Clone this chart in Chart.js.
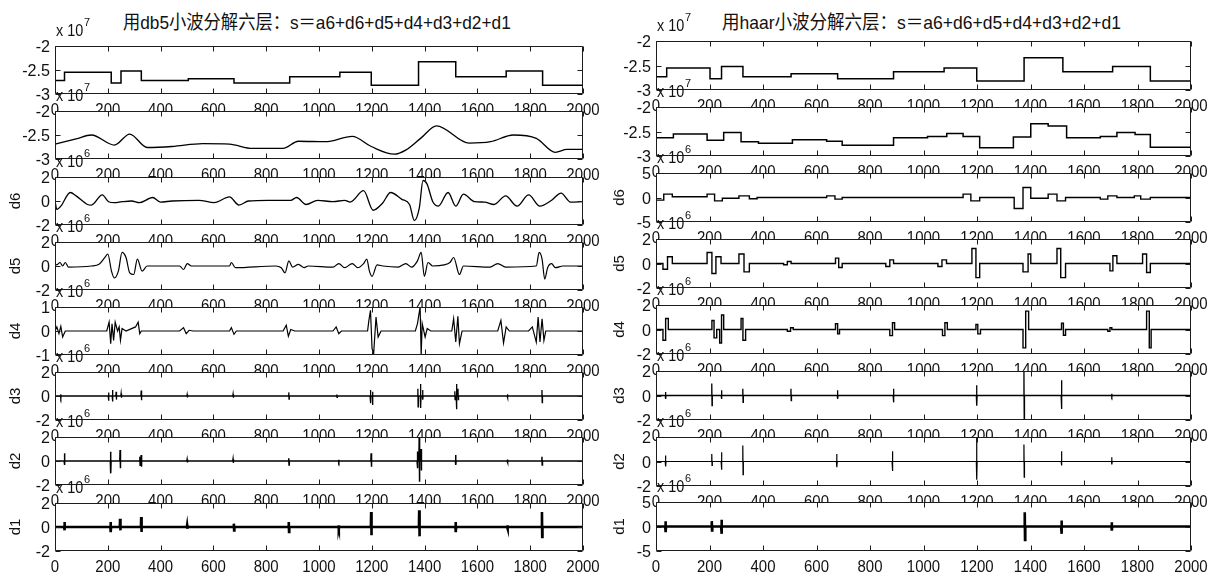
<!DOCTYPE html>
<html><head><meta charset="utf-8">
<script src="https://cdn.jsdelivr.net/npm/chart.js@4.4.0/dist/chart.umd.min.js"></script>
<style>
html,body{margin:0;padding:0;background:#fff;}
body{width:1212px;height:580px;overflow:hidden;position:relative;}
canvas{position:absolute;}
.title{position:absolute;top:12px;white-space:nowrap;font-family:"Liberation Sans","Noto Sans CJK SC",sans-serif;font-size:19px;line-height:22px;color:#111;transform-origin:0 0;}
</style></head>
<body>
<div id="t1" class="title" style="left:123px">用db5小波分解六层：s＝a6+d6+d5+d4+d3+d2+d1</div>
<div id="t2" class="title" style="left:722px">用haar小波分解六层：s＝a6+d6+d5+d4+d3+d2+d1</div>
<script>
// ---------------- axis definitions ----------------
const X_MIN = 0, X_MAX = 2000, X_STEP = 200;
const yMin  = [-3, -3, -2, -2, -1, -2, -2, -2];
const yMax  = [-2, -2,  2,  2,  1,  2,  2,  2];
const yStep = [0.5, 0.5, 2, 2, 1, 2, 2, 2];
const yMinHaar  = [-3, -3, -5, -2, -2, -2, -2, -5];
const yMaxHaar  = [-2, -2,  5,  2,  2,  2,  2,  5];
const yStepHaar = [0.5, 0.5, 5, 2, 2, 2, 2, 5];
const rowLabels = ['', '', 'd6', 'd5', 'd4', 'd3', 'd2', 'd1'];
const rowExp    = ['7', '7', '6', '6', '6', '6', '6', '6'];

// ---------------- db5 column ----------------
const db5_a6_x = [0,36,213,250,327,505,678,889,1079,1198,1377,1518,1709,1847,2000];
const db5_a6_y = [-2.72,-2.545,-2.77,-2.52,-2.72,-2.68,-2.77,-2.64,-2.545,-2.82,-2.33,-2.64,-2.52,-2.82,-2.82];

const db5_a5_x = [0,80,138,225,283,349,443,559,661,748,864,922,1024,1126,1198,1285,1330,1387,1445,1569,1650,1736,1823,1895,1939,2000];
const db5_a5_y = [-2.69,-2.58,-2.5,-2.71,-2.48,-2.76,-2.74,-2.68,-2.69,-2.78,-2.78,-2.63,-2.64,-2.53,-2.74,-2.9,-2.81,-2.56,-2.31,-2.67,-2.64,-2.5,-2.57,-2.86,-2.8,-2.8];

const db5_d6_x = [0,7,22,58,80,123,138,179,203,225,254,290,320,370,399,443,545,603,661,697,733,806,893,915,951,995,1053,1097,1118,1169,1205,1242,1271,1314,1343,1361,1380,1394,1409,1431,1452,1489,1518,1547,1590,1627,1663,1707,1750,1794,1837,1881,1917,1953,2000];
const db5_d6_y = [0,-0.71,-0.43,0.71,0.43,-0.29,-0.34,0.51,-0.06,-0.14,-0.06,0,-0.14,0.29,-0.09,0,0.06,-0.14,0.34,-0.34,0,0.06,0.06,0.29,-0.29,0.06,-0.06,0.06,-0.09,0.86,-0.77,-0.14,0.71,0.14,-0.29,-1.63,-0.57,1.71,1.43,-0.06,-0.43,0.71,-0.43,0.57,-0.06,-0.09,-0.29,0.43,-0.43,0.51,-0.43,0.06,0.66,-0.09,-0.06];

const db5_d5_x = [0,7,19,29,39,51,138,167,189,200,214,225,240,254,269,283,298,312,330,349,472,487,501,516,661,668,683,835,857,871,886,900,922,944,959,1053,1075,1097,1126,1147,1169,1181,1191,1201,1220,1242,1300,1329,1351,1373,1387,1399,1413,1431,1474,1496,1510,1532,1547,1648,1677,1707,1823,1834,1845,1855,1866,1881,1895,1924,2000];
const db5_d5_y = [0.2,0.09,0.29,0,0.29,-0.09,0,0.14,0.71,1.0,-0.43,-1.0,-0.43,1.14,0.71,-0.57,-0.71,0.57,-0.43,0,0,-0.29,0.2,0,0,0.29,-0.14,0,-0.14,-0.57,0.43,-0.09,0.14,-0.14,0,-0.09,0.2,-0.14,0.2,-0.14,0.2,0.57,-0.43,-0.86,0.09,0,-0.09,0.2,-0.09,0.43,1.14,-0.86,0.29,0,0.09,0.29,0.71,-0.71,0,-0.09,0.2,-0.09,0,1.14,0.57,-1.09,-0.14,0.2,-0.14,0,0];

const db5_d4_x = [0,7,15,22,29,39,196,205,211,216,222,228,237,243,248,254,269,290,305,315,321,327,472,487,497,508,523,661,668,678,687,864,876,884,893,908,1053,1065,1075,1085,1184,1189,1195,1201,1207,1216,1224,1235,1365,1373,1383,1387,1391,1402,1410,1423,1503,1510,1518,1526,1532,1542,1677,1689,1699,1709,1721,1794,1808,1823,1830,1837,1845,1852,1859,2000];
const db5_d4_y = [0,0.17,-0.11,0.19,-0.25,0,0,0.37,-0.53,0.3,-0.39,0.37,0,0.17,-0.39,0.1,0,0.1,0.17,0.37,-0.11,0,0,0.14,-0.11,0.03,0,0,0.14,-0.14,0,0,0.24,-0.22,0.06,0,0,0.17,-0.11,0,0,0.44,0.86,-0.74,-0.94,0.58,-0.25,0,0,0.31,1.0,-1.0,0.31,-0.25,0.1,0,0,0.51,-0.46,0.61,-0.53,0,0,0.44,-0.5,0.17,0,0,0.17,-0.46,0.58,-0.46,0.51,-0.39,0,0];

const db5_d3_at = [22,203,218,232,251,327,501,675,886,1068,1195,1203,1375,1385,1393,1515,1521,1527,1714,1845];
const db5_d3_hi = [0.15,0.3,0.5,0.35,0.2,0.45,0.12,0.15,0.3,0.12,0.5,0.35,0.6,1.0,0.5,0.4,1.0,0.6,0.15,0.5];
const db5_d3_lo = [-0.15,-0.4,-0.45,-0.3,-0.15,-0.35,-0.12,-0.15,-0.25,-0.12,-0.6,-0.75,-0.9,-1.0,-0.3,-0.3,-1.1,-0.3,-0.15,-0.55];

const db5_d2_at = [36,211,247,322,327,501,675,886,1075,1198,1373,1380,1387,1518,1714,1845];
const db5_d2_hi = [0.64,0.78,0.92,0.35,0.5,0.12,0.15,0.22,0.1,0.64,0.8,2.0,1.0,0.5,0.12,0.36];
const db5_d2_lo = [-0.33,-1.03,-0.61,-0.35,-0.47,-0.12,-0.15,-0.33,-0.1,-0.47,-0.6,-1.72,-0.8,-0.33,-0.12,-0.33];

const db5_d1_at = [36,211,247,327,501,678,886,1075,1198,1380,1518,1714,1845];
const db5_d1_hi = [0.42,0.42,0.69,0.83,0.15,0.28,0.42,0.15,1.25,1.39,0.42,0.15,1.25];
const db5_d1_lo = [-0.28,-0.42,-0.28,-0.42,-0.15,-0.28,-0.42,-0.15,-0.69,-0.78,-0.42,-0.15,-0.83];

// ---------------- haar column ----------------
const haar_a6_x = [0,40,202,245,325,505,679,888,1077,1199,1376,1521,1707,1848,2000];
const haar_a6_y = [-2.73,-2.55,-2.77,-2.52,-2.73,-2.67,-2.77,-2.63,-2.55,-2.815,-2.34,-2.63,-2.52,-2.815,-2.815];

const haar_a5_x = [0,65,191,253,318,383,510,638,696,888,1015,1087,1148,1210,1336,1401,1466,1535,1661,1723,1791,1848,2000];
const haar_a5_y = [-2.63,-2.55,-2.68,-2.52,-2.71,-2.74,-2.67,-2.70,-2.78,-2.63,-2.60,-2.54,-2.60,-2.83,-2.61,-2.34,-2.39,-2.63,-2.60,-2.52,-2.56,-2.82,-2.82];

const haar_d6_x = [0,29,61,191,219,248,310,349,378,638,669,696,1148,1177,1210,1339,1372,1401,1466,1499,1531,1661,1689,1723,1788,1812,1848,2000];
const haar_d6_y = [-0.54,0.68,0.14,0.68,-0.68,-0.14,0.34,-0.27,0,0.34,-0.34,0,0.68,-0.68,0,-2.23,2.03,-0.14,0.68,-0.68,0,-0.34,0.34,0,0.34,-0.34,0,0];

const haar_d5_x = [0,26,43,61,191,209,224,243,310,329,349,477,491,505,671,683,696,859,874,888,1054,1069,1086,1181,1196,1210,1372,1391,1401,1499,1513,1531,1697,1708,1723,1819,1834,1848,2000];
const haar_d5_y = [0,-0.47,0.55,0,0.9,-0.82,0.55,0,0.77,-0.68,0,-0.1,0.16,0,0.44,-0.33,0,-0.25,0.3,0,-0.25,0.3,0,1.23,-1.15,0,-0.68,0.77,0,1.23,-1.15,0,-0.6,0.63,0,0.77,-0.74,0,0];

const haar_d4_x = [0,26,36,46,209,217,227,238,245,253,318,325,335,491,503,513,671,679,686,874,884,892,1071,1080,1089,1196,1203,1213,1372,1382,1393,1516,1523,1531,1689,1697,1704,1834,1844,1851,2000];
const haar_d4_y = [0,-0.88,0.9,0,0.74,-0.68,0,-1.1,1.18,0,0.9,-0.88,0,-0.14,0.14,0,0.47,-0.36,0,-0.5,0.55,0,-0.5,0.55,0,0.41,-0.36,0,-1.5,1.5,0,0.52,-0.47,0,-0.14,0.14,0,1.5,-1.5,0,0];

const haar_d3_at = [36,209,245,325,505,679,888,1199,1376,1516,1704];
const haar_d3_hi = [0.28,0.97,0.42,0.56,0.56,0.42,0.56,0.83,1.94,1.25,0.14];
const haar_d3_lo = [-0.28,-0.83,-0.28,-0.56,-0.42,-0.28,-0.56,-0.83,-1.89,-1.11,-0.1];

const haar_d2_at = [36,209,245,325,676,884,1199,1376,1516,1704];
const haar_d2_hi = [0.49,0.62,0.76,1.3,0.62,0.84,1.97,1.38,0.84,0.35];
const haar_d2_lo = [-0.41,-0.32,-0.68,-1.08,-0.46,-0.78,-1.49,-1.27,-0.32,-0.24];

const haar_d1_at = [36,209,245,1379,1516,1704];
const haar_d1_hi = [1.09,1.09,1.36,2.93,1.22,0.88];
const haar_d1_lo = [-1.16,-0.82,-1.5,-2.72,-1.5,-0.82];

// ---------------- helpers ----------------
function pairs(xs, ys){ return xs.map((x,i)=>({x:x, y:ys[i]})); }
function spikes(at, hi, lo){
  const p=[{x:X_MIN,y:0}];
  at.forEach((x,i)=>{ p.push({x:x-1.5,y:0},{x:x-0.5,y:hi[i]},{x:x+0.5,y:lo[i]},{x:x+1.5,y:0}); });
  p.push({x:X_MAX,y:0});
  return p;
}

const FONT='"Liberation Sans", Arial, sans-serif';
function txt(ctx,s,x,y,size,align,sx){
  ctx.save(); ctx.font=size+'px '+FONT; ctx.textAlign=align; ctx.textBaseline='alphabetic';
  ctx.translate(x,y); ctx.scale(sx,1); ctx.fillText(s,0,0); ctx.restore();
}

const framePlugin={
  id:'frame',
  beforeDraw(chart){
    const a=chart.chartArea, c=chart.ctx;
    c.save(); c.fillStyle='#fff'; c.fillRect(a.left,a.top,a.right-a.left,a.bottom-a.top); c.restore();
  },
  afterDraw(chart,args,opts){
    const c=chart.ctx, a=chart.chartArea, xs=chart.scales.x, ys=chart.scales.y;
    c.save();
    c.strokeStyle='#1c1c1c'; c.lineWidth=1;
    const L=Math.round(a.left)+0.5, R=Math.round(a.right)-0.5, T=Math.round(a.top)+0.5, B=Math.round(a.bottom)-0.5;
    c.beginPath(); c.rect(L,T,R-L,B-T);
    xs.ticks.forEach(t=>{ const px=Math.round(xs.getPixelForValue(t.value))+0.5;
      c.moveTo(px,B); c.lineTo(px,B-5); c.moveTo(px,T); c.lineTo(px,T+5); });
    ys.ticks.forEach(t=>{ const py=Math.round(ys.getPixelForValue(t.value))+0.5;
      c.moveTo(L,py); c.lineTo(L+5,py); c.moveTo(R,py); c.lineTo(R-5,py); });
    c.stroke();
    c.fillStyle='#111';
    xs.ticks.forEach(t=>txt(c,String(t.value),xs.getPixelForValue(t.value),a.bottom+21,17,'center',0.88));
    ys.ticks.forEach(t=>txt(c,String(t.value),a.left-5,ys.getPixelForValue(t.value)+6,17,'right',0.95));
    txt(c,'x 10',a.left+1,a.top-10,16,'left',0.9);
    txt(c,opts.exp,a.left+29,a.top-20,11,'left',1);
    if(opts.label){
      c.save(); c.translate(opts.labelX,(a.top+a.bottom)/2); c.rotate(-Math.PI/2);
      c.font='15px '+FONT; c.textAlign='center'; c.textBaseline='middle'; c.fillText(opts.label,0,0); c.restore();
    }
    c.restore();
  }
};

const COLS=[
  {left:0,width:604,boxL:55,boxR:583,tops:[46,111,177,242,307,372,437,503],h:48,labelX:16,
   ymin:yMin,ymax:yMax,ystep:yStep,
   series:[
     {data:pairs(db5_a6_x,db5_a6_y),stepped:true,w:1.5},
     {data:pairs(db5_a5_x,db5_a5_y),smooth:true,w:1.3},
     {data:pairs(db5_d6_x,db5_d6_y),smooth:true,w:1.3},
     {data:pairs(db5_d5_x,db5_d5_y),smooth:true,w:1.2},
     {data:pairs(db5_d4_x,db5_d4_y),w:1.2},
     {data:spikes(db5_d3_at,db5_d3_hi,db5_d3_lo),w:1.3},
     {data:spikes(db5_d2_at,db5_d2_hi,db5_d2_lo),w:1.5},
     {data:spikes(db5_d1_at,db5_d1_hi,db5_d1_lo),w:2.6}
   ]},
  {left:604,width:608,boxL:656,boxR:1191,tops:[41,107,173,239,305,371,437,502],h:49,labelX:16,
   ymin:yMinHaar,ymax:yMaxHaar,ystep:yStepHaar,
   series:[
     {data:pairs(haar_a6_x,haar_a6_y),stepped:true,w:1.5},
     {data:pairs(haar_a5_x,haar_a5_y),stepped:true,w:1.5},
     {data:pairs(haar_d6_x,haar_d6_y),stepped:true,w:1.4},
     {data:pairs(haar_d5_x,haar_d5_y),stepped:true,w:1.4},
     {data:pairs(haar_d4_x,haar_d4_y),stepped:true,w:1.4},
     {data:spikes(haar_d3_at,haar_d3_hi,haar_d3_lo),w:1.3},
     {data:spikes(haar_d2_at,haar_d2_hi,haar_d2_lo),w:1.2},
     {data:spikes(haar_d1_at,haar_d1_hi,haar_d1_lo),w:2.6}
   ]}
];

const PT=30, XH=30;
COLS.forEach(col=>{
  col.series.forEach((s,i)=>{
    const cv=document.createElement('canvas');
    const H=PT+col.h+XH;
    cv.width=col.width; cv.height=H;
    cv.style.left=col.left+'px'; cv.style.top=(col.tops[i]-PT)+'px';
    cv.style.width=col.width+'px'; cv.style.height=H+'px';
    document.body.appendChild(cv);
    new Chart(cv,{
      type:'line',
      data:{datasets:[{data:s.data,borderColor:'#000',borderWidth:s.w,pointRadius:0,fill:false,
        stepped:!!s.stepped,tension:s.smooth?0.4:0,cubicInterpolationMode:s.smooth?'monotone':'default'}]},
      options:{
        responsive:false,animation:false,devicePixelRatio:1,events:[],
        layout:{padding:{top:PT,right:col.left+col.width-col.boxR,left:0,bottom:0}},
        plugins:{legend:{display:false},tooltip:{enabled:false},
          frame:{exp:rowExp[i],label:rowLabels[i],labelX:col.labelX}},
        scales:{
          x:{type:'linear',min:X_MIN,max:X_MAX,ticks:{stepSize:X_STEP,display:false},
             grid:{display:false},border:{display:false},afterFit:sc=>{sc.height=XH;}},
          y:{type:'linear',min:col.ymin[i],max:col.ymax[i],ticks:{stepSize:col.ystep[i],display:false},
             grid:{display:false},border:{display:false},afterFit:sc=>{sc.width=col.boxL-col.left;}}
        }
      },
      plugins:[framePlugin]
    });
  });
});

function fitTitle(id,w){ const el=document.getElementById(id); const s=w/el.offsetWidth; el.style.transform='scaleX('+s+')'; }
fitTitle('t1',388); fitTitle('t2',399);
</script>
</body></html>
